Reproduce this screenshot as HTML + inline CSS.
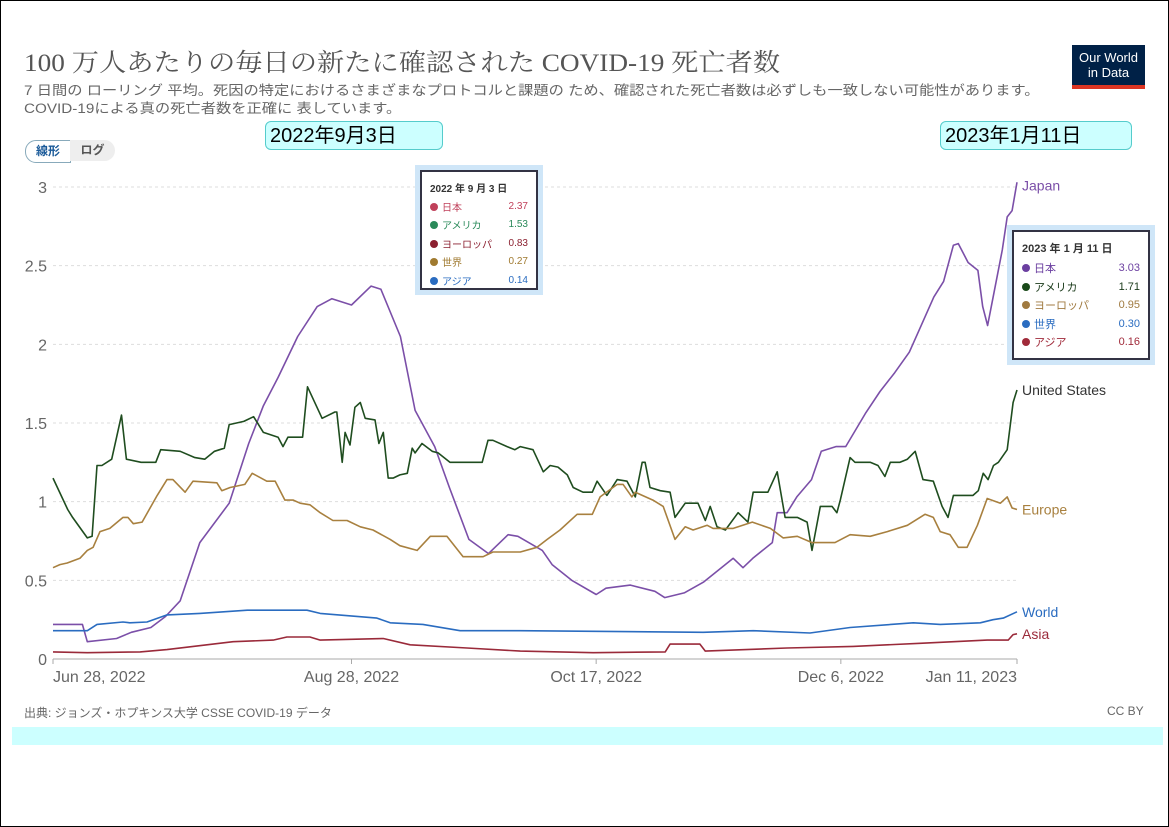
<!DOCTYPE html>
<html><head><meta charset="utf-8">
<style>
body{margin:0;width:1169px;height:827px;overflow:hidden;background:#fff;font-family:"Liberation Sans","Noto Sans CJK JP",sans-serif;}
#frame{position:absolute;left:0;top:0;width:1167px;height:825px;border:1px solid #000;}
.abs{position:absolute;}
#title{left:24px;top:43px;font-family:"Liberation Serif","Noto Serif CJK SC",serif;font-size:25px;color:#555;white-space:nowrap;transform:scaleX(1.09);transform-origin:left top;}
.sub{left:24px;font-size:13.5px;color:#666;white-space:nowrap;transform:scaleX(1.13);transform-origin:left top;}
#logo{left:1072px;top:45px;width:73px;height:44px;background:#002147;color:#fff;font-size:13px;line-height:15px;text-align:center;box-sizing:border-box;padding-top:5px;border-bottom:4px solid #dc3523;}
.toggle{top:140px;height:21px;font-size:12px;line-height:21px;text-align:center;font-weight:bold;}
.callout{top:121px;height:29px;background:#ccffff;border:1px solid #5cc;border-radius:6px;font-size:20px;line-height:29px;color:#000;padding-left:4px;box-sizing:border-box;}
.tip{background:#fff;border:2px solid #334;outline:5px solid #cfe6f8;font-size:10px;box-sizing:border-box;padding:8px 8px;}
.tip .row{display:flex;justify-content:space-between;height:18.5px;align-items:center;}
.dot{display:inline-block;width:8px;height:8px;border-radius:50%;margin-right:4px;}
</style></head>
<body>
<div id="frame"></div>
<div id="title" class="abs">100 万人あたりの毎日の新たに確認された COVID-19 死亡者数</div>
<div class="abs sub" style="top:79px">7 日間の ローリング 平均。死因の特定におけるさまざまなプロトコルと課題の ため、確認された死亡者数は必ずしも一致しない可能性があります。</div>
<div class="abs sub" style="top:97px">COVID-19による真の死亡者数を正確に 表しています。</div>
<div id="logo" class="abs">Our World<br>in Data</div>
<div class="abs toggle" style="left:25px;width:44px;border:1px solid #8ab;border-radius:11px 0 0 11px;color:#1a5a99;background:#fff">線形</div>
<div class="abs toggle" style="left:70px;width:45px;border-radius:0 11px 11px 0;background:#eee;color:#555">ログ</div>
<div class="abs callout" style="left:265px;width:178px">2022年9月3日</div>
<div class="abs callout" style="left:940px;width:192px">2023年1月11日</div>

<svg class="abs" style="left:0;top:0" width="1169" height="827" id="chart"></svg>

<div class="abs tip" style="left:420px;top:170px;width:118px;height:120px">
<div style="font-weight:bold;color:#333;margin-bottom:2px">2022 年 9 月 3 日</div>
<div class="row" style="color:#c0405a"><span><span class="dot" style="background:#c0405a"></span>日本</span><span>2.37</span></div>
<div class="row" style="color:#2a8a5a"><span><span class="dot" style="background:#2a8a5a"></span>アメリカ</span><span>1.53</span></div>
<div class="row" style="color:#8b2030"><span><span class="dot" style="background:#8b2030"></span>ヨーロッパ</span><span>0.83</span></div>
<div class="row" style="color:#a07a30"><span><span class="dot" style="background:#a07a30"></span>世界</span><span>0.27</span></div>
<div class="row" style="color:#2a6cc0"><span><span class="dot" style="background:#2a6cc0"></span>アジア</span><span>0.14</span></div>
</div>
<div class="abs tip" style="left:1012px;top:230px;width:138px;height:130px;font-size:11px">
<div style="font-weight:bold;color:#333;margin-bottom:3px">2023 年 1 月 11 日</div>
<div class="row" style="color:#6b3fa0"><span><span class="dot" style="background:#6b3fa0"></span>日本</span><span>3.03</span></div>
<div class="row" style="color:#1a3a1a"><span><span class="dot" style="background:#1a4a1a"></span>アメリカ</span><span>1.71</span></div>
<div class="row" style="color:#a07a40"><span><span class="dot" style="background:#a07a40"></span>ヨーロッパ</span><span>0.95</span></div>
<div class="row" style="color:#2a6cc0"><span><span class="dot" style="background:#2a6cc0"></span>世界</span><span>0.30</span></div>
<div class="row" style="color:#a02a3a"><span><span class="dot" style="background:#a02a3a"></span>アジア</span><span>0.16</span></div>
</div>

<div class="abs" style="left:24px;top:704px;font-size:12px;color:#666">出典: ジョンズ・ホプキンス大学 CSSE COVID-19 データ</div>
<div class="abs" style="left:1107px;top:704px;font-size:12px;color:#666">CC BY</div>
<div class="abs" style="left:12px;top:727px;width:1151px;height:18px;background:#ccffff"></div>

<script>
const yTicks=[0,0.5,1,1.5,2,2.5,3];
const yTickLabels=["0","0.5","1","1.5","2","2.5","3"];
const xTickDays=[0,61,111,161,197];
const xTickLabels=["Jun 28, 2022","Aug 28, 2022","Oct 17, 2022","Dec 6, 2022","Jan 11, 2023"];
const seriesNames=["Japan","United States","Europe","World","Asia"];
const japanDays=[0,6,7,13,16,20,23,26,30,36,40,43,46,50,54,57,61,65,67,71,74,78,81,85,89,93,95,100,102,106,111,113,118,123,125,129,133,139,141,143,147,148,150,152,155,157,160,162,166,169,172,175,177,180,182,184,185,187,189,190,191,192,194,195,196,197];
const japanValues=[0.22,0.22,0.11,0.13,0.17,0.2,0.27,0.37,0.74,0.99,1.37,1.61,1.79,2.05,2.24,2.29,2.25,2.37,2.35,2.05,1.58,1.35,1.09,0.76,0.67,0.79,0.78,0.69,0.6,0.5,0.41,0.45,0.47,0.43,0.39,0.42,0.49,0.64,0.58,0.64,0.74,0.93,0.93,1.03,1.14,1.32,1.35,1.35,1.56,1.70,1.82,1.95,2.09,2.30,2.40,2.63,2.64,2.52,2.47,2.24,2.12,2.28,2.60,2.81,2.85,3.03];
const usDays=[0,3,4,7,8,9,10,12,13,14,15,18,21,22,26,29,31,33,35,36,39,41,43,46,47,48,51,52,55,57.6,58,59.1,59.7,60.7,61.7,62.8,63.8,65.8,66.6,67.5,68.5,69.5,70.9,72.4,73.4,74,75.4,77.5,78.7,81.1,84.6,87.7,88.9,89.9,92.8,94.4,95.5,98.1,100.2,101.6,103.2,105.1,106.3,108.3,110.2,111.2,113.2,115.3,117.3,119,120.4,121,122,124.1,126.1,127.1,129.2,131.8,133.3,134.3,135.7,137.4,140,142,143.1,145.1,146.1,148,149.6,152.1,154.1,155.1,156.8,159.2,160.2,160.9,162.9,163.9,167,168.6,170,171.1,173.1,174.6,176.2,177.8,179.9,181.7,182.9,184,188,189.1,190.1,191.1,192.2,193.2,195,196.2,197];
const usValues=[1.15,0.95,0.90,0.77,0.78,1.23,1.23,1.27,1.41,1.55,1.27,1.25,1.25,1.33,1.32,1.28,1.27,1.32,1.34,1.49,1.51,1.54,1.44,1.41,1.35,1.41,1.41,1.73,1.53,1.57,1.57,1.25,1.44,1.36,1.60,1.63,1.53,1.52,1.37,1.44,1.15,1.15,1.17,1.18,1.34,1.31,1.37,1.32,1.31,1.25,1.25,1.25,1.39,1.39,1.35,1.33,1.35,1.33,1.19,1.23,1.22,1.17,1.09,1.06,1.06,1.13,1.04,1.14,1.13,1.03,1.25,1.25,1.09,1.07,1.06,0.90,0.99,0.99,0.88,0.97,0.84,0.82,0.93,0.87,1.06,1.06,1.06,1.19,0.90,0.90,0.87,0.69,0.97,0.97,0.93,1.01,1.28,1.25,1.25,1.23,1.16,1.25,1.25,1.27,1.32,1.14,1.13,0.97,0.90,1.04,1.04,1.07,1.18,1.14,1.23,1.25,1.33,1.63,1.71];
const europeDays=[0,1.4,2.9,5.5,7,8.2,9.6,11.6,14.3,15.3,16.4,18.2,21.3,23.3,24.5,27,28.6,33.5,34.5,36.2,39.2,40.7,43.7,45.4,47.4,49.1,50.5,52.5,54.6,57.2,60.1,62.8,65.4,68.9,70.9,74.4,77.1,80.5,83.8,87.9,89.9,93.4,95.5,98.9,101,103.6,107.1,110.2,111.8,115.3,116.5,118.3,119,122.6,124.7,127.1,129.2,130.8,133.7,134.9,139,142.9,146.6,149.2,152.1,155.1,159.8,162.9,167,170.5,174.6,178.2,179.9,181.3,183.3,185,186.8,188.9,190.9,193.6,195,196,197];
const europeValues=[0.58,0.60,0.61,0.64,0.69,0.71,0.81,0.83,0.90,0.90,0.86,0.87,1.04,1.14,1.14,1.06,1.13,1.12,1.07,1.09,1.11,1.18,1.13,1.13,1.01,1.01,0.99,0.98,0.93,0.88,0.88,0.84,0.82,0.76,0.72,0.69,0.78,0.78,0.65,0.65,0.68,0.68,0.68,0.71,0.76,0.82,0.92,0.92,1.03,1.11,1.11,1.03,1.06,1.01,0.97,0.76,0.84,0.82,0.85,0.83,0.83,0.87,0.83,0.77,0.78,0.74,0.74,0.79,0.78,0.81,0.85,0.92,0.90,0.81,0.79,0.71,0.71,0.85,1.02,0.99,1.03,0.96,0.95];
const worldDays=[0,6.1,7,9,14.3,15.7,19.2,23.3,30,39.7,51.9,54.6,66.2,68.9,75.6,83.2,95.5,132.9,143.1,154.7,162.9,175.8,181.3,189.5,192.1,194.2,197];
const worldValues=[0.18,0.18,0.18,0.22,0.235,0.23,0.235,0.28,0.29,0.31,0.31,0.29,0.26,0.23,0.22,0.18,0.18,0.17,0.18,0.165,0.20,0.23,0.22,0.23,0.25,0.26,0.30];
const asiaDays=[0,7,17.8,23.3,36.8,45,47.8,52.5,54.6,67.5,73,84.6,95.5,110.4,125.1,126.1,132.2,133.3,150,163.5,177.2,190.9,195.2,196.2,197];
const asiaValues=[0.045,0.04,0.045,0.06,0.11,0.12,0.14,0.14,0.12,0.13,0.09,0.07,0.05,0.04,0.045,0.095,0.095,0.05,0.07,0.08,0.10,0.12,0.12,0.155,0.16];

const NS="http://www.w3.org/2000/svg";
const svg=document.getElementById('chart');
const X0=53,X1=1017,Y0=659,Y3=187;
function xScale(d){return X0+(X1-X0)*d/197;}
function yScale(v){return Y0-(Y0-Y3)*v/3;}
function mk(tag,attrs){const e=document.createElementNS(NS,tag);for(const k in attrs)e.setAttribute(k,attrs[k]);svg.appendChild(e);return e;}

yTicks.forEach((t,i)=>{
  const y=yScale(t);
  if(t>0){const g=mk('line',{x1:X0,x2:X1,y1:y,y2:y,stroke:'#ddd','stroke-dasharray':'3,3'});
  
  }
  const tx=mk('text',{x:47,y:y+6,'text-anchor':'end','font-size':16,fill:'#666','font-family':'Liberation Sans, sans-serif'});
  tx.textContent=yTickLabels[i];
  
  
});
const base=mk('line',{x1:X0,x2:X1,y1:Y0,y2:Y0,stroke:'#aaa'});


xTickDays.forEach((d,i)=>{
  const x=xScale(d);
  const tk=mk('line',{x1:x,x2:x,y1:Y0,y2:Y0+5,stroke:'#aaa'});
  
  
  const anchor=i===0?'start':(i===xTickLabels.length-1?'end':'middle');
  const tx=mk('text',{x:x,y:682,'text-anchor':anchor,'font-size':16,fill:'#666','font-family':'Liberation Sans, sans-serif'});
  tx.textContent=xTickLabels[i];
  
  
});
const series=[
 [japanDays,japanValues,'#7b4fa8','japan-line'],
 [usDays,usValues,'#1f4d1f','united-states-line'],
 [europeDays,europeValues,'#a8803f','europe-line'],
 [worldDays,worldValues,'#2a6cc0','world-line'],
 [asiaDays,asiaValues,'#9a2a3a','asia-line']];
const labelColors=['#7b4fa8','#333','#a8803f','#2a6cc0','#9a2a3a'];
series.forEach((s,i)=>{
  const pts=s[0].map((d,j)=>xScale(d).toFixed(1)+','+yScale(s[1][j]).toFixed(1)).join(' ');
  const pl=mk('polyline',{points:pts,fill:'none',stroke:s[2],'stroke-width':1.6,'stroke-linejoin':'round'});
  
  
  const last=s[1][s[1].length-1];
  let ly=yScale(last)+5;
  if(i===0)ly=yScale(last)+8;
  const tx=mk('text',{x:1022,y:ly,'font-size':14,fill:labelColors[i],'font-family':'Liberation Sans, sans-serif'});
  tx.textContent=seriesNames[i];
  
  
});
</script>
</body></html>
